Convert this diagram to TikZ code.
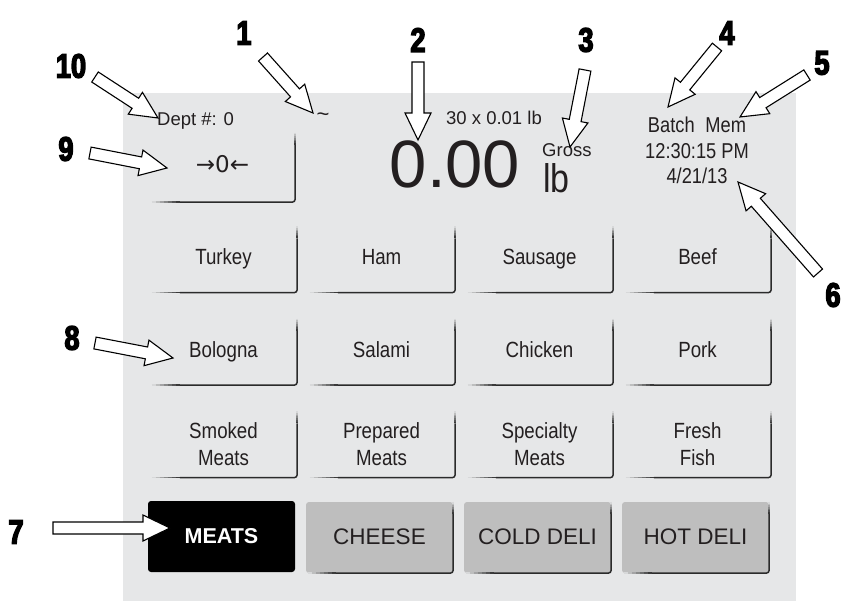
\documentclass[tikz,border=0pt]{standalone}
\usepackage{fontspec}
\setmainfont{Liberation Sans}
\newfontfamily\narrowfont[FakeStretch=0.85]{Liberation Sans}
\newfontfamily\arrowfont{DejaVu Sans}
\newfontfamily\calloutfont[FakeStretch=0.8,FakeBold=4]{Liberation Sans Bold}
\usetikzlibrary{calc}
\definecolor{panel}{HTML}{E6E7E8}
\definecolor{keygray}{HTML}{BEBEBE}
\definecolor{edge}{HTML}{2B2B2B}
\definecolor{ink}{HTML}{231F20}
\tikzset{
  key/.style={minimum width=147pt, minimum height=66pt, inner sep=0pt, align=center,
    text=ink, font=\narrowfont\fontsize{22}{27}\selectfont},
  oneline/.style={text height=16pt, text depth=5pt},
  tab/.style={key, minimum height=71pt, rounded corners=3pt, fill=keygray,
    text height=16pt, text depth=3pt, font=\fontsize{22.5}{27}\selectfont},
  info/.style={inner sep=0pt, text=ink, font=\fontsize{18.5}{20}\selectfont},
  status/.style={anchor=base, inner sep=0pt, text=ink, font=\narrowfont\fontsize{21.5}{24}\selectfont},
  edgeline/.style={draw=edge, line width=1.5pt},
  callout/.style={draw=black, fill=white, line width=1.1pt, line join=miter},
  num/.style={inner sep=0pt, font=\calloutfont\fontsize{34}{34}\selectfont},
}
% shadow on the right and bottom side of a key, fading in at the open ends
\newcommand{\keyedge}[1]{%
  \foreach \k in {0,...,6} {
    \pgfmathtruncatemacro\pct{14*\k+8}
    \draw[line width=1.5pt, draw=edge!\pct!panel] ($(#1.south west)+(2+4*\k,0)$) -- ++(4.2,0);
    \draw[line width=1.5pt, draw=edge!\pct!panel] ($(#1.north east)+(0,1.7*\k)$) -- ++(0,1.9);
  }
  \draw[edgeline, rounded corners=3pt] ($(#1.south west)+(30,0)$) -- (#1.south east) -- ($(#1.north east)+(0,12)$);
}
% block arrow from tail #1 to tip #2
\newcommand{\callarrow}[2]{%
  \coordinate (ah) at ($(#2)!27pt!(#1)$);
  \draw[callout] ($(#1)!6pt!90:(#2)$) -- ($(ah)!6pt!90:(#2)$) -- ($(ah)!13pt!90:(#2)$) -- (#2)
    -- ($(ah)!13pt!-90:(#2)$) -- ($(ah)!6pt!-90:(#2)$) -- ($(#1)!6pt!-90:(#2)$) -- cycle;
}
\begin{document}
\begin{tikzpicture}[x=1pt,y=-1pt]
  \useasboundingbox (0,0) rectangle (843,601);
  \fill[panel] (123,93) rectangle (796,601);
  % header line
  \node[info, anchor=base west] (D) at (157,126) {Dept \#: 0};
  \node[info, font=\fontsize{22}{24}\selectfont] (S) at (323,117) {\textasciitilde};
  \node[info, anchor=base] (C) at (494,125) {30 x 0.01 lb};
  \node[anchor=base, inner sep=0pt, text=ink, font=\fontsize{67}{67}\selectfont] (W) at (455,188) {0.00};
  \node[info, anchor=base west] (G) at (542,157) {Gross};
  \node[anchor=base west, inner sep=0pt, text=ink, font=\narrowfont\fontsize{40}{40}\selectfont] (U) at (543,193) {lb};
  \node[status] (B) at (697,133) {Batch\enspace Mem};
  \node[status] (T) at (697,159) {12:30:15 PM};
  \node[status] (Y) at (697,184) {4/21/13};
  \node[key, oneline, minimum width=145pt, minimum height=69pt, font=\arrowfont\fontsize{23}{26}\selectfont]
    (Z) at (222.5,167.5) {→0←};
  \keyedge{Z}
  % product keys
  \foreach \lbl [count=\i from 0] in {Turkey,Ham,Sausage,Beef,Bologna,Salami,Chicken,Pork} {
    \node[key, oneline] (K\i) at ({223.5+158*mod(\i,4)},{259.5+92.5*int(\i/4)}) {\lbl};
    \keyedge{K\i}
  }
  \foreach \lbl [count=\i from 8] in {{Smoked\\Meats},{Prepared\\Meats},{Specialty\\Meats},{Fresh\\Fish}} {
    \node[key] (K\i) at ({223.5+158*mod(\i,4)},444.5) {\lbl};
    \keyedge{K\i}
  }
  % department tabs
  \node[tab, fill=black, text=white, font=\bfseries\fontsize{21.5}{26}\selectfont] (T0) at (221.5,536.5) {MEATS};
  \foreach \lbl [count=\i] in {CHEESE,COLD DELI,HOT DELI} {
    \node[tab] (T\i) at ({221.5+158*\i},537.5) {\lbl};
    \keyedge{T\i}
  }
  % callouts
  \foreach \n/\x/\y in {1/244/33,2/418/40,3/586/40,4/727/33,5/822/63,6/833/295,7/16/532,8/72/338,9/66/149,10/71/66}
    \node[num] (L\n) at (\x,\y) {\n};
  \foreach \n/\ax/\ay/\bx/\by in {1/263/57/313/113,2/418/62/418/140,3/585/70/570/147,4/717/47/668/107,
      5/807/75/740/117,6/818/273/738/182,7/53/528/170/528,8/95/343/173/358,9/90/153/167/168,10/95/77/158/118} {
    \coordinate (a\n) at (\ax,\ay);
    \coordinate (p\n) at (\bx,\by);
    \callarrow{a\n}{p\n}
  }
\end{tikzpicture}
\end{document}
